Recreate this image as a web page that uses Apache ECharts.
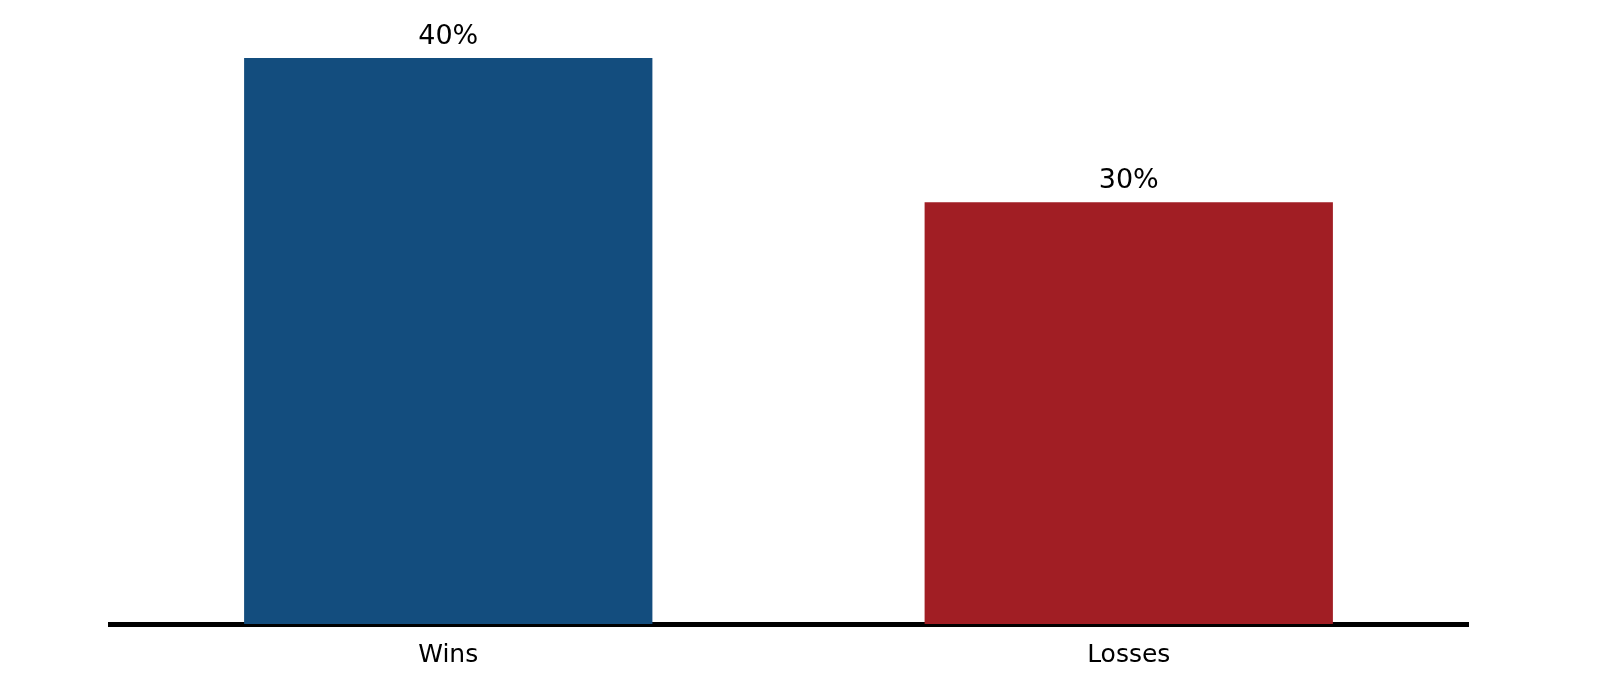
<!DOCTYPE html>
<html>
<head>
<meta charset="utf-8">
<style>
  html, body { margin: 0; padding: 0; background: #ffffff; }
  #chart { width: 1616px; height: 696px; }
</style>
<script src="https://cdn.jsdelivr.net/npm/echarts@6/dist/echarts.min.js"></script>
</head>
<body>
<div id="chart"></div>
<script>
const categories = ["Wins", "Losses"];
const values = [40, 29.8];
const barColors = ["#134D7E", "#A11E24"];

const chart = echarts.init(document.getElementById("chart"), null, { renderer: "canvas" });
chart.setOption({
  animation: false,
  backgroundColor: "#ffffff",
  grid: { left: 108, right: 147, top: 58, bottom: 72 },
  xAxis: {
    type: "category",
    data: categories,
    axisLine: { show: true, lineStyle: { color: "#000000", width: 5, cap: "butt" } },
    axisTick: { show: false },
    axisLabel: {
      color: "#000000",
      fontFamily: "DejaVu Sans",
      fontSize: 25,
      margin: 19
    }
  },
  yAxis: {
    type: "value",
    min: 0,
    max: 40,
    show: false,
    splitLine: { show: false }
  },
  series: [{
    type: "bar",
    barWidth: "60%",
    data: values.map((v, i) => ({ value: v, itemStyle: { color: barColors[i] } })),
    label: {
      show: true,
      position: "top",
      distance: 8,
      color: "#000000",
      fontFamily: "DejaVu Sans",
      fontSize: 27,
      formatter: p => Math.round(p.value) + "%"
    }
  }]
});
</script>
</body>
</html>
